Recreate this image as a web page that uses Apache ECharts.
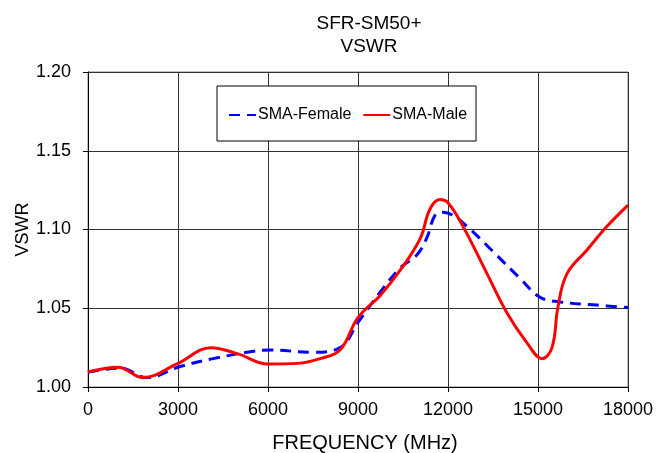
<!DOCTYPE html>
<html>
<head>
<meta charset="utf-8">
<script src="https://cdn.jsdelivr.net/npm/echarts@6/dist/echarts.min.js"></script>
<style>
  html, body { margin: 0; padding: 0; background: #fff; }
  #chart { width: 671px; height: 453px; }
</style>
</head>
<body>
<div id="chart"></div>
<script>
  // frequency (MHz) / VSWR pairs
  var femaleFreq = [0, 1070, 1960, 3070, 4170, 5300, 6070, 7500, 8400, 9000, 9733, 10400, 10967, 11300, 11567, 11833, 12167, 12633, 13500, 14400, 15067, 15733, 16967, 18000];
  var femaleVswr = [1.0095, 1.012, 1.006, 1.013, 1.018, 1.022, 1.0235, 1.022, 1.025, 1.041, 1.060, 1.0755, 1.084, 1.095, 1.109, 1.111, 1.109, 1.102, 1.086, 1.069, 1.057, 1.054, 1.052, 1.0505];

  var maleFreq = [0, 1000, 1830, 3000, 4100, 5000, 6000, 7000, 7733, 8400, 9000, 9733, 10400, 11067, 11400, 11733, 12000, 12500, 13300, 13967, 14633, 15133, 15467, 15667, 15967, 16633, 17300, 18000];
  var maleVswr = [1.0095, 1.0125, 1.006, 1.015, 1.025, 1.021, 1.0146, 1.015, 1.018, 1.0235, 1.044, 1.058, 1.074, 1.094, 1.113, 1.119, 1.117, 1.102, 1.072, 1.047, 1.028, 1.018, 1.025, 1.051, 1.072, 1.087, 1.102, 1.1155];

  function pairs(xs, ys) {
    return xs.map(function (x, i) { return [x, ys[i]]; });
  }

  var chart = echarts.init(document.getElementById('chart'));
  var font = 'Liberation Sans, Arial, sans-serif';
  chart.setOption({
    backgroundColor: '#fff',
    animation: false,
    title: {
      text: 'SFR-SM50+\nVSWR',
      left: 364,
      textAlign: 'center',
      top: 7,
      textStyle: { fontFamily: font, fontSize: 19, fontWeight: 'normal', color: '#000', lineHeight: 23 }
    },
    legend: {
      left: 217,
      top: 86,
      padding: [21, 9, 18, 11],
      itemGap: 11,
      itemWidth: 27,
      itemHeight: 16,
      backgroundColor: '#fff',
      borderColor: '#000',
      borderWidth: 1,
      borderRadius: 0,
      itemStyle: { opacity: 0 },
      textStyle: { fontFamily: font, fontSize: 16, color: '#000', padding: [0, 0, 0, -3] },
      data: ['SMA-Female', 'SMA-Male']
    },
    grid: { left: 88, right: 43, top: 72, bottom: 66, outerBoundsMode: 'none', show: true, borderColor: '#808080', borderWidth: 1 },
    xAxis: {
      type: 'value',
      min: 0, max: 18000, interval: 3000,
      name: 'FREQUENCY (MHz)',
      nameLocation: 'middle',
      nameGap: 46,
      nameMoveOverlap: false,
      nameTextStyle: { fontFamily: font, fontSize: 20, color: '#000', padding: [0, 0, 0, 14] },
      axisLine: { lineStyle: { color: '#000' } },
      axisTick: { inside: false, length: 5, lineStyle: { color: '#000' } },
      axisLabel: { fontFamily: font, fontSize: 18, color: '#000', margin: 14, formatter: function (v) { return String(v); } },
      splitLine: { show: true, lineStyle: { color: '#333', width: 1 } }
    },
    yAxis: {
      type: 'value',
      min: 1.0, max: 1.2, interval: 0.05,
      name: 'VSWR',
      nameLocation: 'middle',
      nameGap: 56,
      nameMoveOverlap: false,
      nameTextStyle: { fontFamily: font, fontSize: 18, color: '#000' },
      axisLine: { show: true, lineStyle: { color: '#000' } },
      axisTick: { show: true, inside: false, length: 5, lineStyle: { color: '#000' } },
      axisLabel: { fontFamily: font, fontSize: 18, color: '#000', margin: 17, formatter: function (v) { return v.toFixed(2); } },
      splitLine: { show: true, lineStyle: { color: '#333', width: 1 } }
    },
    series: [
      {
        name: 'SMA-Female',
        type: 'line',
        smooth: 0.4,
        symbol: 'none',
        color: '#0000ff',
        lineStyle: { color: '#0000ff', width: 3, type: [11, 7] },
        data: pairs(femaleFreq, femaleVswr)
      },
      {
        name: 'SMA-Male',
        type: 'line',
        smooth: 0.4,
        symbol: 'none',
        color: '#ff0000',
        lineStyle: { color: '#ff0000', width: 3 },
        data: pairs(maleFreq, maleVswr)
      }
    ]
  });
</script>
</body>
</html>
